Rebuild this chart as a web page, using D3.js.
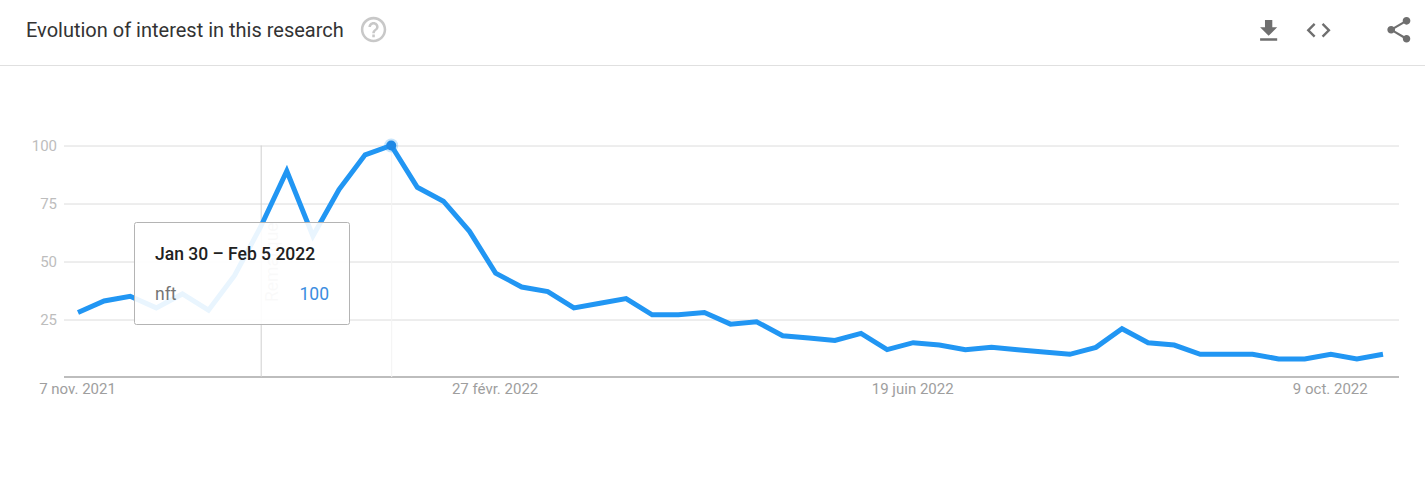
<!DOCTYPE html>
<html>
<head>
<meta charset="utf-8">
<script src="https://cdn.jsdelivr.net/npm/d3@7"></script>
<style>
html,body{margin:0;padding:0;background:#fff;overflow:hidden}
svg{display:block}
text{font-family:Roboto,sans-serif}
</style>
</head>
<body>
<svg id="chart" width="1425" height="481"></svg>
<script>
const titleText = "Evolution of interest in this research";
const seriesName = "nft";
const startDate = "2021-11-07";
const interest = [28,33,35,30,36,29,44,65,89,61,81,96,100,82,76,63,45,39,37,30,32,34,27,27,28,23,24,18,17,16,19,12,15,14,12,13,12,11,10,13,21,15,14,10,10,10,8,8,10,8,10];
const yTicks = [25,50,75,100];
const xTickDates = ["2021-11-07","2022-02-27","2022-06-19","2022-10-09"];
const xTickLabels = ["7 nov. 2021","27 févr. 2022","19 juin 2022","9 oct. 2022"];
const noteDate = "2021-12-26";
const noteText = "Remarque";
const hoverIndex = 12;
const hoverLabel = "Jan 30 – Feb 5 2022";

const parse = d3.utcParse("%Y-%m-%d");
const dates = interest.map((_, i) => d3.utcDay.offset(parse(startDate), i * 7));

const svg = d3.select("#chart");
const x = d3.scaleUtc().domain([dates[0], dates[dates.length - 1]]).range([78, 1383]);
const y = d3.scaleLinear().domain([0, 100]).range([377.5, 145.5]);

// Header
svg.append("line").attr("x1",0).attr("x2",1425).attr("y1",65.5).attr("y2",65.5).attr("stroke","#e0e0e0");
svg.append("text").attr("x",26).attr("y",36.5).attr("font-size",20).attr("fill","#333").text(titleText);
const icon = (d, tx, ty, s, fill) => svg.append("path").attr("d", d).attr("fill", fill).attr("transform", `translate(${tx},${ty}) scale(${s})`);
icon("M11 18h2v-2h-2v2zm1-16C6.48 2 2 6.48 2 12s4.48 10 10 10 10-4.48 10-10S17.52 2 12 2zm0 18c-4.41 0-8-3.59-8-8s3.59-8 8-8 8 3.59 8 8-3.59 8-8 8zm0-14c-2.21 0-4 1.79-4 4h2c0-1.1.9-2 2-2s2 .9 2 2c0 2-3 1.75-3 5h2c0-2.25 3-2.5 3-5 0-2.21-1.79-4-4-4z", 358.3, 14.3, 1.27, "#c8c8c8");
icon("M19 9h-4V3H9v6H5l7 7 7-7zM5 18v2h14v-2H5z", 1254, 16.3, 1.22, "#6f6f6f");
icon("M9.4 16.6L4.8 12l4.6-4.6L8 6l-6 6 6 6 1.4-1.4zm5.2 0l4.6-4.6-4.6-4.6L16 6l6 6-6 6-1.4-1.4z", 1304.2, 15.8, 1.2, "#6f6f6f");
icon("M18 16.08c-.76 0-1.44.3-1.96.77L8.91 12.7c.05-.23.09-.46.09-.7s-.04-.47-.09-.7l7.05-4.11c.54.5 1.25.81 2.04.81 1.66 0 3-1.34 3-3s-1.34-3-3-3-3 1.34-3 3c0 .24.04.47.09.7L8.04 9.81C7.5 9.31 6.79 9 6 9c-1.66 0-3 1.34-3 3s1.34 3 3 3c.79 0 1.5-.31 2.04-.81l7.12 4.16c-.05.21-.08.43-.08.65 0 1.61 1.31 2.92 2.92 2.92 1.61 0 2.92-1.31 2.92-2.92s-1.31-2.92-2.92-2.92z", 1383.5, 14.4, 1.28, "#6f6f6f");

// Y axis with grid lines
const yAxis = svg.append("g").attr("transform","translate(64,0)")
  .call(d3.axisRight(y).tickValues(yTicks).tickSize(1335).tickFormat(d3.format("d")));
yAxis.select(".domain").remove();
yAxis.selectAll("line").attr("stroke","#dcdcdc");
yAxis.selectAll("text").attr("x",-7).attr("dy","0.33em").attr("text-anchor","end").attr("font-size",15).attr("fill","#bdbdbd").attr("font-family","Roboto,sans-serif");

// X axis
const xAxis = svg.append("g").attr("transform","translate(-1,377)")
  .call(d3.axisBottom(x).tickValues(xTickDates.map(parse)).tickSize(0).tickFormat((d,i)=>xTickLabels[i]));
xAxis.select(".domain").remove();
xAxis.selectAll("text").attr("y",17).attr("dy","0").attr("font-size",15).attr("fill","#9e9e9e").attr("font-family","Roboto,sans-serif");
svg.append("line").attr("x1",64).attr("x2",1399).attr("y1",377).attr("y2",377).attr("stroke","#bdbdbd").attr("stroke-width",2);

// Note line and hover guide
svg.append("line").attr("x1",x(parse(noteDate))+0.5).attr("x2",x(parse(noteDate))+0.5).attr("y1",y(100)).attr("y2",377).attr("stroke","#cfcfcf");
svg.append("line").attr("x1",x(dates[hoverIndex])+0.5).attr("x2",x(dates[hoverIndex])+0.5).attr("y1",y(100)).attr("y2",377).attr("stroke","#f3f3f3");
svg.append("text").attr("transform",`translate(${x(parse(noteDate))+17},302) rotate(-90)`).attr("font-size",17.5).attr("fill","#c4c4c4").text(noteText);

// Line
const line = d3.line().x((d,i)=>x(dates[i])).y(d=>y(d));
svg.append("path").datum(interest).attr("d",line).attr("fill","none").attr("stroke","#2196f3").attr("stroke-width",5).attr("stroke-linejoin","miter");

// Peak dot
svg.append("circle").attr("cx",x(dates[hoverIndex])).attr("cy",y(interest[hoverIndex])).attr("r",7).attr("fill","#2196f3").attr("opacity",0.25);
svg.append("circle").attr("cx",x(dates[hoverIndex])).attr("cy",y(interest[hoverIndex])).attr("r",5).attr("fill","#1e88e5");

// Tooltip
const tip = svg.append("g");
tip.append("rect").attr("x",134.5).attr("y",222.5).attr("width",215).attr("height",102).attr("rx",2)
  .attr("fill","#fff").attr("fill-opacity",0.9).attr("stroke","#b4b4b4");
tip.append("text").attr("x",155).attr("y",259.5).attr("font-size",17.5).attr("font-weight",500).attr("fill","#212121").text(hoverLabel);
tip.append("text").attr("x",155).attr("y",300).attr("font-size",17.5).attr("fill","#757575").text(seriesName);
tip.append("text").attr("x",329).attr("y",300).attr("text-anchor","end").attr("font-size",17.5).attr("fill","#3b8de0").text(interest[hoverIndex]);
</script>
</body>
</html>
